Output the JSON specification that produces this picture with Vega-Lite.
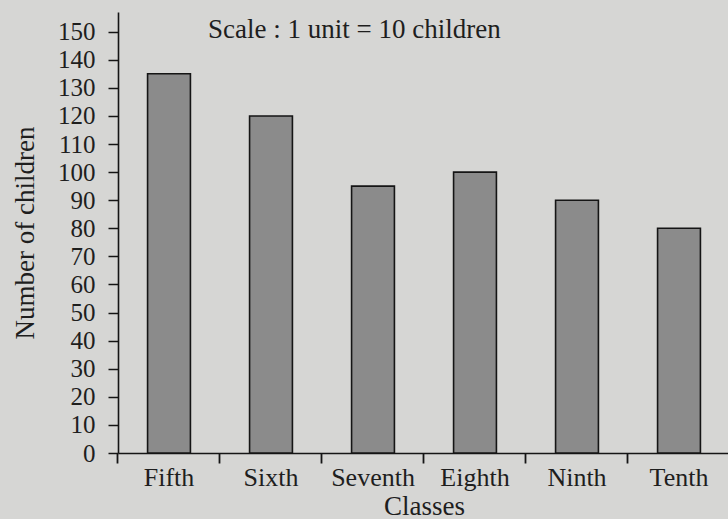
{
  "$schema": "https://vega.github.io/schema/vega-lite/v6.json",
  "width": 612,
  "height": 441,
  "autosize": "none",
  "padding": {"left": 118, "top": 12, "right": 0, "bottom": 66},
  "background": "#d6d6d4",
  "title": {
    "text": "Scale : 1 unit = 10 children",
    "anchor": "start",
    "frame": "group",
    "dx": 90,
    "offset": 0,
    "dy": 53,
    "baseline": "alphabetic",
    "font": "Liberation Serif",
    "fontSize": 27,
    "fontWeight": "normal",
    "color": "#1e1e1e"
  },
  "data": {
    "values": [
      {"Class": "Fifth", "Children": 135},
      {"Class": "Sixth", "Children": 120},
      {"Class": "Seventh", "Children": 95},
      {"Class": "Eighth", "Children": 100},
      {"Class": "Ninth", "Children": 90},
      {"Class": "Tenth", "Children": 80}
    ]
  },
  "layer": [
    {
      "mark": {"type": "bar", "fill": "#8b8b8b", "stroke": "#151515", "strokeWidth": 1.6},
      "encoding": {
        "x": {
          "field": "Class",
          "type": "nominal",
          "sort": null,
          "scale": {"paddingInner": 0.58, "paddingOuter": 0.29},
          "axis": {
            "title": "Classes",
            "orient": "bottom",
            "labelAngle": 0,
            "ticks": false,
            "labelPadding": 11,
            "labelFont": "Liberation Serif",
            "labelFontSize": 26,
            "labelColor": "#1e1e1e",
            "titleFont": "Liberation Serif",
            "titleFontSize": 27,
            "titleFontWeight": "normal",
            "titleColor": "#1e1e1e",
            "titlePadding": 3,
            "domainColor": "#151515",
            "domainWidth": 1.6
          }
        },
        "y": {
          "field": "Children",
          "type": "quantitative",
          "scale": {"domain": [0, 157], "nice": false},
          "axis": {
            "title": "Number of children",
            "values": [0, 10, 20, 30, 40, 50, 60, 70, 80, 90, 100, 110, 120, 130, 140, 150],
            "grid": false,
            "tickSize": 10,
            "tickColor": "#151515",
            "tickWidth": 1.5,
            "labelPadding": 13,
            "labelFont": "Liberation Serif",
            "labelFontSize": 25,
            "labelColor": "#1e1e1e",
            "titleFont": "Liberation Serif",
            "titleFontSize": 27,
            "titleFontWeight": "normal",
            "titleColor": "#1e1e1e",
            "titlePadding": 18,
            "domainColor": "#151515",
            "domainWidth": 1.6
          }
        }
      }
    },
    {
      "mark": {"type": "tick", "opacity": 0},
      "encoding": {
        "x": {
          "field": "Class",
          "type": "nominal",
          "sort": null,
          "axis": {
            "title": null,
            "orient": "top",
            "offset": -441,
            "labels": false,
            "domain": false,
            "ticks": true,
            "bandPosition": -0.6905,
            "tickSize": -10,
            "tickColor": "#151515",
            "tickWidth": 1.8
          }
        }
      }
    }
  ],
  "resolve": {"axis": {"x": "independent"}},
  "config": {"view": {"stroke": null}}
}
